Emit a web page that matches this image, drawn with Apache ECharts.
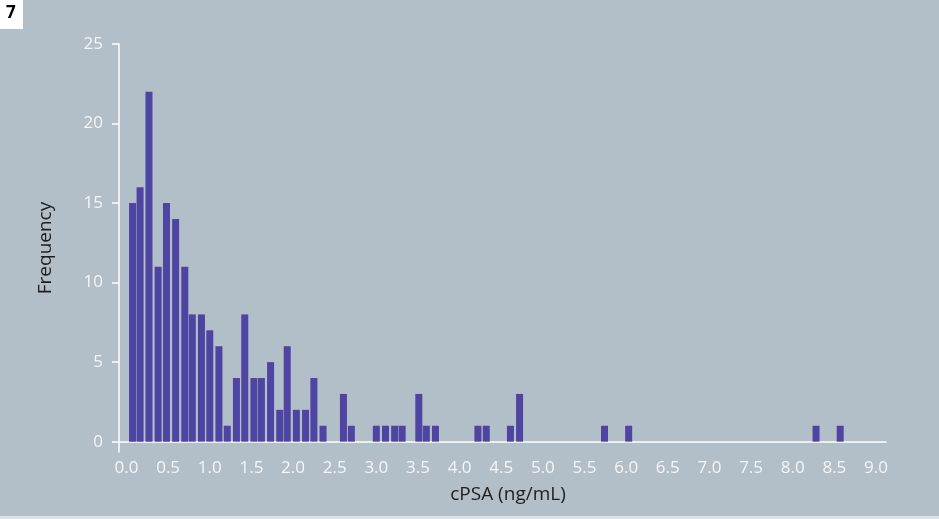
<!DOCTYPE html>
<html>
<head>
<meta charset="utf-8">
<script src="https://cdn.jsdelivr.net/npm/echarts@6/dist/echarts.min.js"></script>
<style>
  html, body { margin: 0; padding: 0; background: #dde2e6; }
  #chart { width: 939px; height: 516px; }
</style>
</head>
<body>
<div id="chart"></div>
<script>
// cPSA bin positions (ng/mL)
const binCenters = [0.073, 0.163, 0.27, 0.38, 0.48, 0.59, 0.70, 0.79, 0.90, 1.00,
  1.11, 1.21, 1.32, 1.42, 1.53, 1.62, 1.73, 1.84, 1.93, 2.04, 2.15, 2.25, 2.36,
  2.605, 2.70, 3.00, 3.11, 3.22, 3.31, 3.51, 3.60, 3.71, 4.22, 4.32, 4.61, 4.72,
  5.74, 6.03, 8.28, 8.57];
// frequencies
const frequencies = [15, 16, 22, 11, 15, 14, 11, 8, 8, 7,
  6, 1, 4, 8, 4, 4, 5, 2, 6, 2, 2, 4, 1,
  3, 1, 1, 1, 1, 1, 3, 1, 1, 1, 1, 1, 3,
  1, 1, 1, 1];
const xTickValues = [0, 0.5, 1, 1.5, 2, 2.5, 3, 3.5, 4, 4.5, 5, 5.5, 6, 6.5, 7, 7.5, 8, 8.5, 9];
const yTickValues = [0, 5, 10, 15, 20, 25];
const xTitle = 'cPSA (ng/mL)';
const yTitle = 'Frequency';
const panelLabel = '7';

const chart = echarts.init(document.getElementById('chart'), null, { renderer: 'canvas' });
const font = '"Open Sans", "Noto Sans", sans-serif';
const option = {
  backgroundColor: '#b2bec8',
  animation: false,
  textStyle: { fontFamily: font },
  grid: { left: 119, right: 53, top: 44, bottom: 64 },
  xAxis: {
    type: 'value',
    min: -0.09,
    max: 9.12,
    name: xTitle,
    nameLocation: 'middle',
    nameGap: 33,
    nameTextStyle: { color: '#1e1e1e', fontSize: 19, fontFamily: font, padding: [0, 0, 0, 11] },
    axisLine: { onZero: true, lineStyle: { color: '#ffffff', width: 1.5 } },
    axisTick: { show: false },
    splitLine: { show: false },
    axisLabel: {
      customValues: xTickValues,
      formatter: v => v.toFixed(1),
      color: '#f4f6f8',
      fontSize: 17,
      margin: 8,
      fontFamily: font
    }
  },
  yAxis: {
    type: 'value',
    min: -0.65,
    max: 25,
    name: yTitle,
    nameLocation: 'middle',
    nameGap: 64,
    nameTextStyle: { color: '#1e1e1e', fontSize: 19, fontFamily: font },
    axisLine: { show: true, onZero: false, lineStyle: { color: '#ffffff', width: 1.5 } },
    axisTick: { show: true, customValues: yTickValues, length: 7, lineStyle: { color: '#ffffff', width: 1.5 } },
    splitLine: { show: false },
    axisLabel: {
      customValues: yTickValues,
      color: '#f4f6f8',
      fontSize: 17,
      margin: 16,
      fontFamily: font
    }
  },
  series: [{
    type: 'bar',
    barWidth: 7,
    itemStyle: { color: '#4e44a1' },
    data: binCenters.map((x, i) => [x, frequencies[i]])
  }],
  graphic: [
    { type: 'rect', left: 0, top: 0, shape: { width: 23, height: 29 }, style: { fill: '#ffffff' } },
    { type: 'text', left: 6, top: 5, style: { text: panelLabel, fill: '#000000', font: 'bold 17px ' + font } }
  ]
};
chart.setOption(option);
</script>
</body>
</html>
